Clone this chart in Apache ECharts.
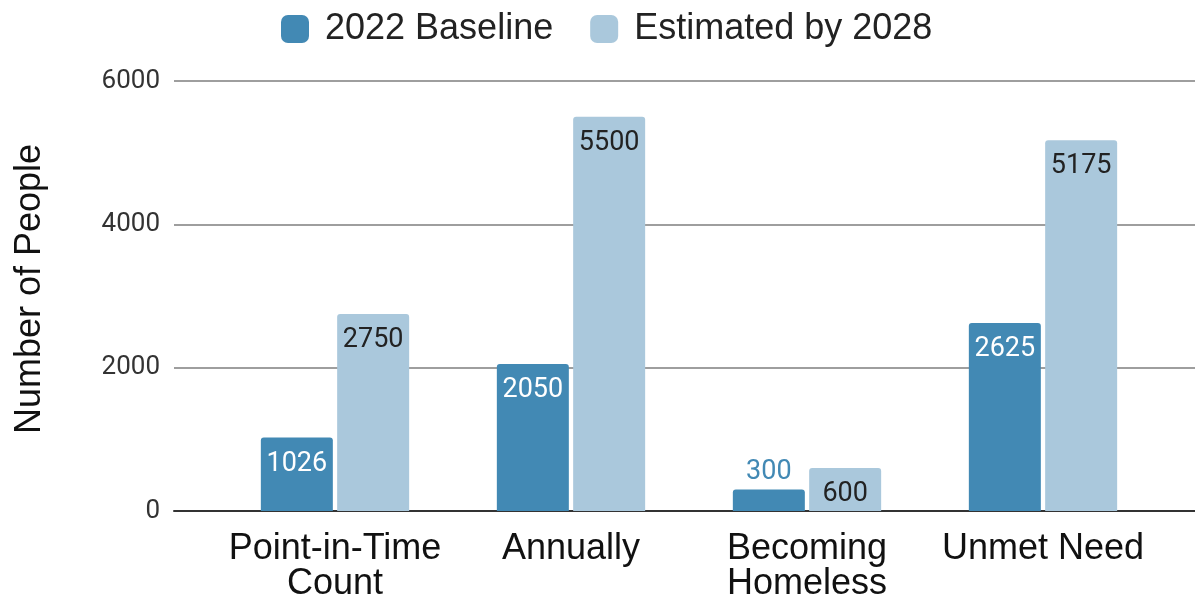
<!DOCTYPE html>
<html>
<head>
<meta charset="utf-8">
<script src="https://cdn.jsdelivr.net/npm/echarts@6/dist/echarts.min.js"></script>
<style>
  html, body { margin: 0; padding: 0; background: #fff; }
  #main { width: 1195px; height: 599px; }
</style>
</head>
<body>
<div id="main"></div>
<script>
// data
const categories = ['Point-in-Time\nCount', 'Annually', 'Becoming\nHomeless', 'Unmet Need']
const baseline2022 = [1026, 2050, 300, 2625]
const estimated2028 = [2750, 5500, 600, 5175]
const seriesNames = ['2022 Baseline', 'Estimated by 2028']
const yTicks = [0, 2000, 4000, 6000]

const darkBlue = '#4289b4'
const lightBlue = '#aac8dc'
const arial = '"Liberation Sans", Arial, sans-serif'

const chart = echarts.init(document.getElementById('main'))

// short bars get their label above the bar
const baselineData = baseline2022.map(v => v < 500
  ? { value: v, label: { position: 'top', distance: 4, color: darkBlue } }
  : v)

const option = {
  backgroundColor: '#fff',
  textStyle: { fontFamily: 'Roboto' },
  legend: {
    data: seriesNames,
    left: 276,
    top: 6,
    itemWidth: 28,
    itemHeight: 28,
    itemGap: 37,
    icon: 'roundRect',
    textStyle: { fontSize: 36, fontFamily: arial, color: '#222', padding: [0, 0, 0, 11] }
  },
  grid: [
    // gridlines + y labels
    { left: 174, right: 0, top: 81, bottom: 88, outerBoundsMode: 'none', containLabel: false },
    // bars
    { left: 217, right: 34, top: 81, bottom: 88, outerBoundsMode: 'none', containLabel: false }
  ],
  xAxis: [
    {
      gridIndex: 0,
      type: 'category',
      data: [''],
      axisLine: { show: true, lineStyle: { color: '#333', width: 2 } },
      axisTick: { show: false },
      axisLabel: { show: false }
    },
    {
      gridIndex: 1,
      type: 'category',
      data: categories,
      axisLine: { show: false },
      axisTick: { show: false },
      axisLabel: {
        fontSize: 36,
        fontFamily: arial,
        lineHeight: 35,
        color: '#111',
        margin: 21,
        interval: 0
      }
    }
  ],
  yAxis: [
    {
      gridIndex: 0,
      type: 'value',
      min: yTicks[0],
      max: yTicks[yTicks.length - 1],
      interval: yTicks[1] - yTicks[0],
      name: 'Number of People',
      nameLocation: 'middle',
      nameRotate: 90,
      nameGap: 126,
      nameTextStyle: { fontSize: 36, fontFamily: arial, color: '#111', padding: [0, 0, 0, 14] },
      axisLine: { show: false },
      axisTick: { show: false },
      axisLabel: { fontSize: 26, color: '#333', margin: 14, formatter: v => String(v) },
      splitLine: { lineStyle: { color: '#9e9e9e', width: 2 } }
    },
    {
      gridIndex: 1,
      type: 'value',
      min: yTicks[0],
      max: yTicks[yTicks.length - 1],
      interval: yTicks[1] - yTicks[0],
      show: false,
      splitLine: { show: false }
    }
  ],
  series: [
    {
      name: seriesNames[0],
      type: 'bar',
      xAxisIndex: 1,
      yAxisIndex: 1,
      barWidth: 72,
      barGap: '6%',
      data: baselineData,
      itemStyle: { color: darkBlue, borderRadius: [3, 3, 0, 0] },
      label: {
        show: true,
        position: 'insideTop',
        distance: 13,
        fontSize: 27,
        color: '#fff'
      }
    },
    {
      name: seriesNames[1],
      type: 'bar',
      xAxisIndex: 1,
      yAxisIndex: 1,
      barWidth: 72,
      barGap: '6%',
      data: estimated2028,
      itemStyle: { color: lightBlue, borderRadius: [3, 3, 0, 0] },
      label: {
        show: true,
        position: 'insideTop',
        distance: 13,
        fontSize: 27,
        color: '#222'
      }
    }
  ]
}

chart.setOption(option)
</script>
</body>
</html>
